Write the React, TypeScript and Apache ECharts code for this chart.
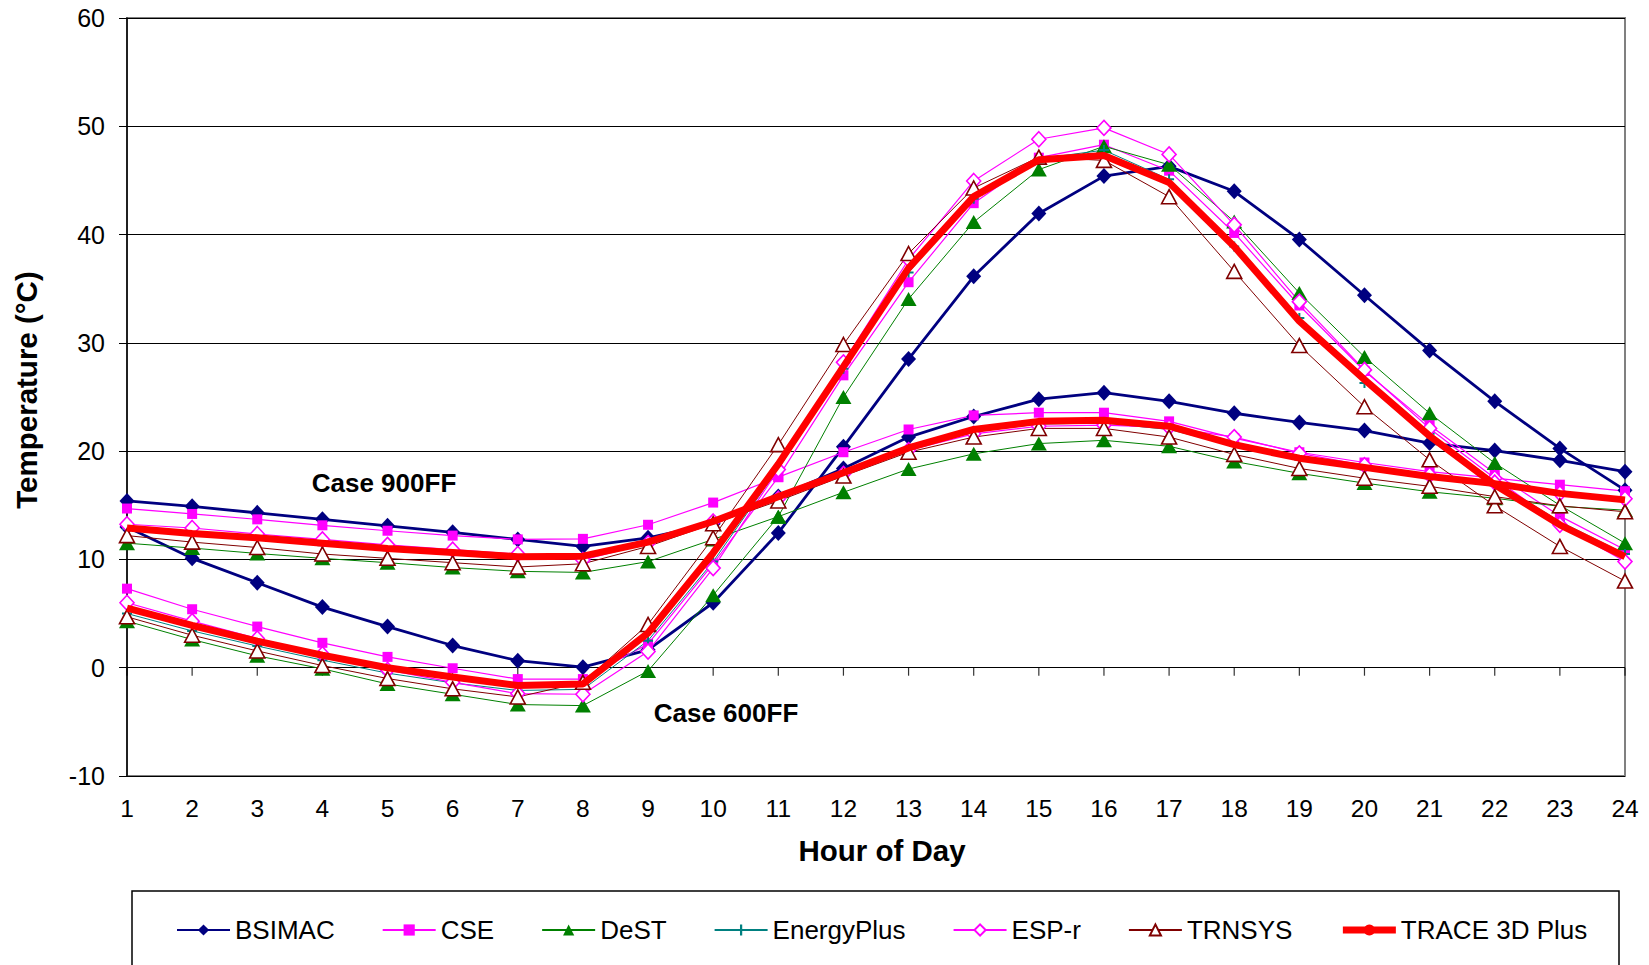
import React, { useEffect, useRef } from "react";
import * as echarts from "echarts";

const hours = ["1","2","3","4","5","6","7","8","9","10","11","12","13","14","15","16","17","18","19","20","21","22","23","24"];

// Case 900FF
const bsimac900 = [15.4, 14.9, 14.3, 13.7, 13.1, 12.5, 11.85, 11.2, 12.0, 13.3, 15.8, 18.4, 21.3, 23.2, 24.8, 25.4, 24.6, 23.5, 22.65, 21.9, 20.75, 20.05, 19.15, 18.1];
const cse900 = [14.7, 14.2, 13.7, 13.15, 12.65, 12.2, 11.85, 11.9, 13.2, 15.25, 17.6, 19.9, 22.0, 23.3, 23.55, 23.55, 22.75, 21.2, 19.9, 18.95, 18.1, 17.5, 16.9, 16.3];
const dest900 = [11.5, 11.05, 10.55, 10.1, 9.7, 9.25, 8.9, 8.8, 9.8, 11.85, 13.95, 16.2, 18.35, 19.75, 20.7, 21.0, 20.45, 19.05, 17.95, 17.05, 16.25, 15.65, 14.9, 14.55];
const energyplus900 = [12.8, 12.3, 11.85, 11.3, 10.85, 10.5, 10.1, 10.1, 11.4, 13.4, 15.7, 17.9, 20.1, 21.8, 22.5, 22.6, 22.0, 20.5, 19.2, 18.3, 17.5, 16.8, 16.0, 15.4];
const espr900 = [13.25, 12.9, 12.35, 11.85, 11.35, 10.9, 10.5, 9.95, 11.5, 13.5, 15.6, 17.9, 20.1, 21.6, 22.3, 22.4, 22.2, 21.3, 19.8, 18.7, 17.8, 17.1, 16.1, 15.6];
const trnsys900 = [12.2, 11.6, 11.1, 10.5, 10.1, 9.7, 9.3, 9.6, 11.2, 13.3, 15.4, 17.7, 19.9, 21.3, 22.1, 22.1, 21.3, 19.7, 18.4, 17.5, 16.75, 15.8, 14.95, 14.4];
const trace900 = [12.9, 12.4, 12.0, 11.5, 11.0, 10.65, 10.25, 10.3, 11.6, 13.5, 15.8, 18.0, 20.3, 22.0, 22.75, 22.85, 22.3, 20.6, 19.35, 18.5, 17.65, 17.0, 16.1, 15.5];

// Case 600FF
const bsimac600 = [13.0, 10.1, 7.85, 5.6, 3.8, 2.05, 0.65, 0.05, 1.65, 6.0, 12.45, 20.4, 28.5, 36.15, 41.95, 45.4, 46.3, 44.0, 39.55, 34.4, 29.3, 24.6, 20.25, 16.4];
const cse600 = [7.3, 5.4, 3.8, 2.3, 1.0, -0.05, -1.05, -1.05, 2.2, 9.6, 17.6, 27.0, 35.6, 42.9, 47.1, 48.3, 45.9, 40.15, 33.45, 27.4, 22.4, 17.95, 14.0, 10.9];
const dest600 = [4.3, 2.6, 1.1, -0.1, -1.5, -2.45, -3.4, -3.5, -0.3, 6.7, 13.95, 25.0, 34.05, 41.15, 46.0, 48.15, 46.45, 41.2, 34.6, 28.7, 23.5, 18.9, 15.0, 11.5];
const energyplus600 = [5.0, 3.4, 2.0, 0.7, -0.5, -1.4, -2.1, -2.0, 2.5, 9.8, 18.4, 27.6, 36.5, 43.3, 47.0, 47.8, 45.1, 38.9, 32.3, 26.3, 21.6, 17.2, 13.5, 10.5];
const espr600 = [6.0, 4.3, 2.7, 1.25, -0.2, -1.35, -2.4, -2.45, 1.5, 9.2, 18.3, 28.2, 37.7, 44.95, 48.8, 49.85, 47.4, 40.9, 33.8, 27.5, 22.1, 17.5, 13.2, 9.8];
const trnsys600 = [4.7, 3.0, 1.55, 0.2, -1.0, -1.95, -2.7, -1.35, 4.0, 12.0, 20.6, 29.85, 38.25, 44.3, 47.15, 46.85, 43.5, 36.6, 29.75, 24.1, 19.2, 14.95, 11.2, 8.0];
const trace600 = [5.5, 3.9, 2.45, 1.15, 0.0, -0.85, -1.65, -1.5, 3.2, 10.6, 18.8, 27.8, 36.9, 43.5, 46.9, 47.3, 44.8, 38.9, 32.0, 26.6, 21.4, 16.9, 13.2, 10.25];

const legendNames = ["BSIMAC", "CSE", "DeST", "EnergyPlus", "ESP-r", "TRNSYS", "TRACE 3D Plus"];
const caseLabels = ["Case 900FF", "Case 600FF"];
const xTitle = "Hour of Day";
const yTitle = "Temperature (°C)";
const xAxisCrossValue = 0;

const FONT = "'Liberation Sans', Arial, Helvetica, sans-serif";
const PLUS = "path://M4,0 L6,0 L6,4 L10,4 L10,6 L6,6 L6,10 L4,10 L4,6 L0,6 L0,4 L4,4 Z";

type Model = {
  name: string;
  d600: number[];
  d900: number[];
  color: string;
  width: number;
  symbol: string;
  size: number | number[];
  fill: string;
};

const models: Model[] = [
  { name: "BSIMAC", d600: bsimac600, d900: bsimac900, color: "#000080", width: 2.8, symbol: "diamond", size: [15, 16], fill: "#000080" },
  { name: "CSE", d600: cse600, d900: cse900, color: "#FF00FF", width: 1.2, symbol: "rect", size: 10, fill: "#FF00FF" },
  { name: "DeST", d600: dest600, d900: dest900, color: "#008000", width: 1, symbol: "triangle", size: [16, 14], fill: "#008000" },
  { name: "EnergyPlus", d600: energyplus600, d900: energyplus900, color: "#008080", width: 1, symbol: PLUS, size: 10, fill: "#008080" },
  { name: "ESP-r", d600: espr600, d900: espr900, color: "#FF00FF", width: 1.2, symbol: "diamond", size: [14, 15], fill: "#FFFFFF" },
  { name: "TRNSYS", d600: trnsys600, d900: trnsys900, color: "#800000", width: 1, symbol: "triangle", size: [15, 14], fill: "#FFFFFF" },
  { name: "TRACE 3D Plus", d600: trace600, d900: trace900, color: "#FF0000", width: 7, symbol: "none", size: 0, fill: "#FF0000" },
];

export default function App() {
  const ref = useRef<HTMLDivElement>(null);

  useEffect(() => {
    if (!ref.current) return;
    const chart = echarts.init(ref.current, undefined, { renderer: "svg" });

    const series: any[] = [];
    // tick marks hanging below the zero line (horizontal axis crosses at 0)
    series.push({
      type: "scatter",
      name: "__ticks",
      data: hours.map((h) => [h, xAxisCrossValue]),
      symbol: "rect",
      symbolSize: [1.2, 8],
      symbolOffset: [0, 4],
      itemStyle: { color: "#000" },
      silent: true,
      z: 1,
    });
    models.forEach((m) => {
      [m.d600, m.d900].forEach((d) => {
        series.push({
          type: "line",
          name: m.name,
          data: d,
          symbol: m.symbol,
          showSymbol: m.symbol !== "none",
          symbolSize: m.size,
          lineStyle: { color: m.color, width: m.width },
          itemStyle: {
            color: m.fill,
            borderColor: m.color,
            borderWidth: m.fill === "#FFFFFF" ? 1.6 : 0,
          },
          emphasis: { disabled: true },
          z: m.name === "TRACE 3D Plus" ? 3 : 2,
        });
      });
    });

    const titleStyle = {
      fontSize: 29.5,
      fontWeight: "bold",
      fontFamily: FONT,
      fill: "#000",
      textAlign: "center",
      textVerticalAlign: "middle",
    };

    chart.setOption({
      animation: false,
      backgroundColor: "#ffffff",
      textStyle: { fontFamily: FONT },
      grid: {
        left: 127,
        right: 24,
        top: 18,
        bottom: 189,
        show: true,
        borderColor: "#808080",
        borderWidth: 2,
        backgroundColor: "transparent",
      },
      xAxis: {
        type: "category",
        data: hours,
        boundaryGap: false,
        position: "bottom",
        axisLine: { show: false, onZero: false },
        axisTick: { show: false },
        axisLabel: { fontSize: 24.5, color: "#000", fontFamily: FONT, margin: 20, interval: 0 },
        splitLine: { show: false },
      },
      yAxis: {
        type: "value",
        min: -10,
        max: 60,
        interval: 10,
        axisLine: { show: true, onZero: false, lineStyle: { color: "#000", width: 1.5 } },
        axisTick: { show: true, length: 8, lineStyle: { color: "#000" } },
        axisLabel: { fontSize: 25, color: "#000", fontFamily: FONT, margin: 22 },
        splitLine: { show: true, lineStyle: { color: "#000", width: 1 } },
      },
      legend: {
        data: legendNames.map((n) =>
          n === "TRACE 3D Plus" ? { name: n, lineStyle: { width: 7 } } : { name: n }
        ),
        left: 176,
        top: 917,
        padding: 0,
        itemWidth: 53,
        itemHeight: 14,
        itemGap: 47,
        selectedMode: false,
        textStyle: { fontSize: 26, color: "#000", fontFamily: FONT },
      },
      graphic: [
        {
          type: "rect",
          shape: { x: 132, y: 891, width: 1487, height: 120 },
          style: { fill: "none", stroke: "#000", lineWidth: 1.5 },
          silent: true,
        },
        {
          type: "text",
          x: 882,
          y: 850,
          style: { ...titleStyle, text: xTitle },
        },
        {
          type: "text",
          x: 26,
          y: 390,
          rotation: Math.PI / 2,
          style: { ...titleStyle, text: yTitle },
        },
        {
          type: "text",
          x: 384,
          y: 483,
          style: { ...titleStyle, fontSize: 26, text: caseLabels[0] },
        },
        {
          type: "text",
          x: 726,
          y: 713,
          style: { ...titleStyle, fontSize: 26, text: caseLabels[1] },
        },
      ],
      series,
    });

    return () => chart.dispose();
  }, []);

  return (
    <div
      ref={ref}
      style={{ position: "fixed", left: 0, top: 0, width: 1649, height: 965, background: "#fff" }}
    />
  );
}
